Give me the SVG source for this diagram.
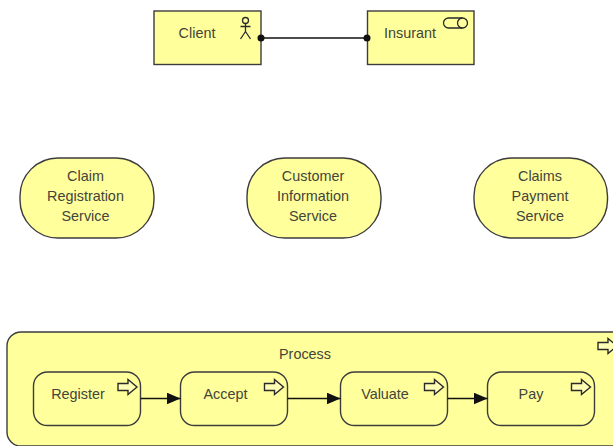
<svg xmlns="http://www.w3.org/2000/svg" width="613" height="446" viewBox="0 0 613 446">
<style>
text{font-family:"Liberation Sans",Arial,sans-serif;font-size:14.4px;fill:#44443a;text-anchor:middle}
.n{fill:#ffff9c;stroke:#3c3c3c;stroke-width:1.4}
.i{fill:none;stroke:#2a2a2a;stroke-width:1.3}
.w{fill:#ffffb5;stroke:#2a2a2a;stroke-width:1.4}
.c{fill:none;stroke:#111;stroke-width:1.3}
</style>
<defs>
<marker id="a" markerUnits="userSpaceOnUse" markerWidth="15" markerHeight="12" refX="14" refY="6" orient="auto"><path d="M0 0L14 6L0 12Z" fill="#111"/></marker>
<path id="p" d="M0 -3.500H10V-7.500L19 0L10 7.500V3.500H0Z"/>
</defs>
<rect width="613" height="446" fill="#fff"/>
<g id="client"><rect class="n" x="154" y="11" width="107" height="53.500"/><text x="197" y="38">Client</text>
<g class="i"><circle cx="245.500" cy="20.500" r="3"/><path d="M245.500 23.500V31.500M240.500 26.500H250.500M245.500 31.500L240.500 39M245.500 31.500L250.500 39"/></g></g>
<g id="insurant"><rect class="n" x="367.500" y="11" width="106.500" height="53.500"/><text x="410" y="38">Insurant</text>
<g class="i"><rect x="443.500" y="18" width="24" height="10" rx="5"/><path d="M462.500 18A5 5 0 0 0 462.500 28"/></g></g>
<g id="claim-registration"><rect class="n" x="20" y="158" width="134" height="80" rx="38" ry="38"/><text x="85.500" y="181">Claim</text><text x="85.500" y="201">Registration</text><text x="85.500" y="221">Service</text></g>
<g id="customer-information"><rect class="n" x="247" y="158" width="134" height="80" rx="38" ry="38"/><text x="313" y="181">Customer</text><text x="313" y="201">Information</text><text x="313" y="221">Service</text></g>
<g id="claims-payment"><rect class="n" x="474" y="158" width="133.500" height="80" rx="38" ry="38"/><text x="540" y="181">Claims</text><text x="540" y="201">Payment</text><text x="540" y="221">Service</text></g>
<g id="process"><rect class="n" x="7" y="332" width="620" height="114" rx="14"/><text x="305" y="359">Process</text><use href="#p" x="598" y="346" class="w"/></g>
<g id="register"><rect class="n" x="33.500" y="372" width="107" height="53.500" rx="14"/><text x="78" y="399">Register</text><use href="#p" x="118" y="387" class="w"/></g>
<g id="accept"><rect class="n" x="180.500" y="372" width="107" height="53.500" rx="14"/><text x="225.500" y="399">Accept</text><use href="#p" x="264.500" y="387" class="w"/></g>
<g id="valuate"><rect class="n" x="340.500" y="372" width="107" height="53.500" rx="14"/><text x="385" y="399">Valuate</text><use href="#p" x="424.500" y="387" class="w"/></g>
<g id="pay"><rect class="n" x="487.500" y="372" width="107" height="53.500" rx="14"/><text x="531" y="399">Pay</text><use href="#p" x="571.500" y="387" class="w"/></g>
<g id="connectors">
<path class="c" d="M261 38H367.500"/><circle cx="261" cy="38" r="3.500" fill="#111"/><circle cx="367" cy="38" r="3.500" fill="#111"/>
<path class="c" marker-end="url(#a)" d="M140.500 398.500H180.500"/>
<path class="c" marker-end="url(#a)" d="M287.500 398.500H340.500"/>
<path class="c" marker-end="url(#a)" d="M447.500 398.500H487.500"/>
</g>
</svg>
